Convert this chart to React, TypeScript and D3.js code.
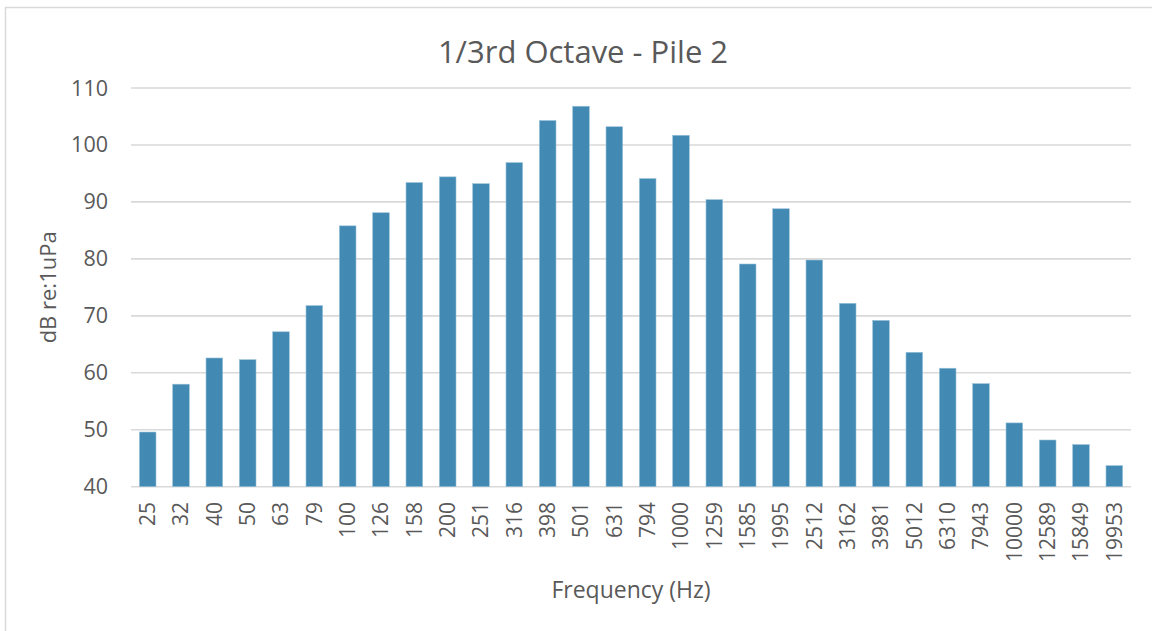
import React from "react";
import * as d3 from "d3";

const categories = ["25","32","40","50","63","79","100","126","158","200","251","316","398","501","631","794","1000","1259","1585","1995","2512","3162","3981","5012","6310","7943","10000","12589","15849","19953"];
const values = [49.6,58.0,62.6,62.3,67.2,71.8,85.8,88.1,93.4,94.4,93.2,96.9,104.3,106.8,103.2,94.1,101.7,90.4,79.1,88.8,79.8,72.2,69.2,63.6,60.8,58.1,51.2,48.2,47.4,43.7];
const yTicks = [40,50,60,70,80,90,100,110];

const W = 1152, H = 631;
const left = 131, right = 1131, top = 88, bottom = 486.7;
const FONT = "'Open Sans', sans-serif";
const TXT = "#595959";

export default function App() {
  const x = d3.scaleBand<string>().domain(categories).range([left, right]).paddingInner(0.5).paddingOuter(0.25);
  const y = d3.scaleLinear().domain([40, 110]).range([bottom, top]);
  return (
    <svg width={W} height={H} style={{ position: "absolute", left: 0, top: 0, background: "#fff" }} fontFamily={FONT}>
      <rect x={5.5} y={7.5} width={1160} height={640} fill="#fff" stroke="#d9d9d9" strokeWidth={1.5} />
      <text x={583} y={63} textAnchor="middle" fontSize={31} fill={TXT}>1/3rd Octave - Pile 2</text>
      {yTicks.map(t => (
        <g key={t}>
          <line x1={left} x2={right} y1={y(t)} y2={y(t)} stroke="#d9d9d9" strokeWidth={1.6} />
          <text x={108} y={y(t)} dy="0.35em" textAnchor="end" fontSize={21.5} fill={TXT}>{t}</text>
        </g>
      ))}
      {categories.map((c, i) => (
        <rect key={c} x={x(c)} y={y(values[i])} width={x.bandwidth()} height={y(40) - y(values[i])} fill="#428ab4" stroke="#9cc3da" strokeWidth={0.6} />
      ))}
      {categories.map(c => {
        const cx = (x(c) as number) + x.bandwidth() / 2;
        return (
          <text key={c} transform={`translate(${cx},502) rotate(-90)`} dy="0.35em" textAnchor="end" fontSize={21} fill={TXT}>{c}</text>
        );
      })}
      <text transform={`translate(48,${(top + bottom) / 2}) rotate(-90)`} dy="0.35em" textAnchor="middle" fontSize={22} fill={TXT}>dB re:1uPa</text>
      <text x={(left + right) / 2} y={598} textAnchor="middle" fontSize={23} fill={TXT}>Frequency (Hz)</text>
    </svg>
  );
}
